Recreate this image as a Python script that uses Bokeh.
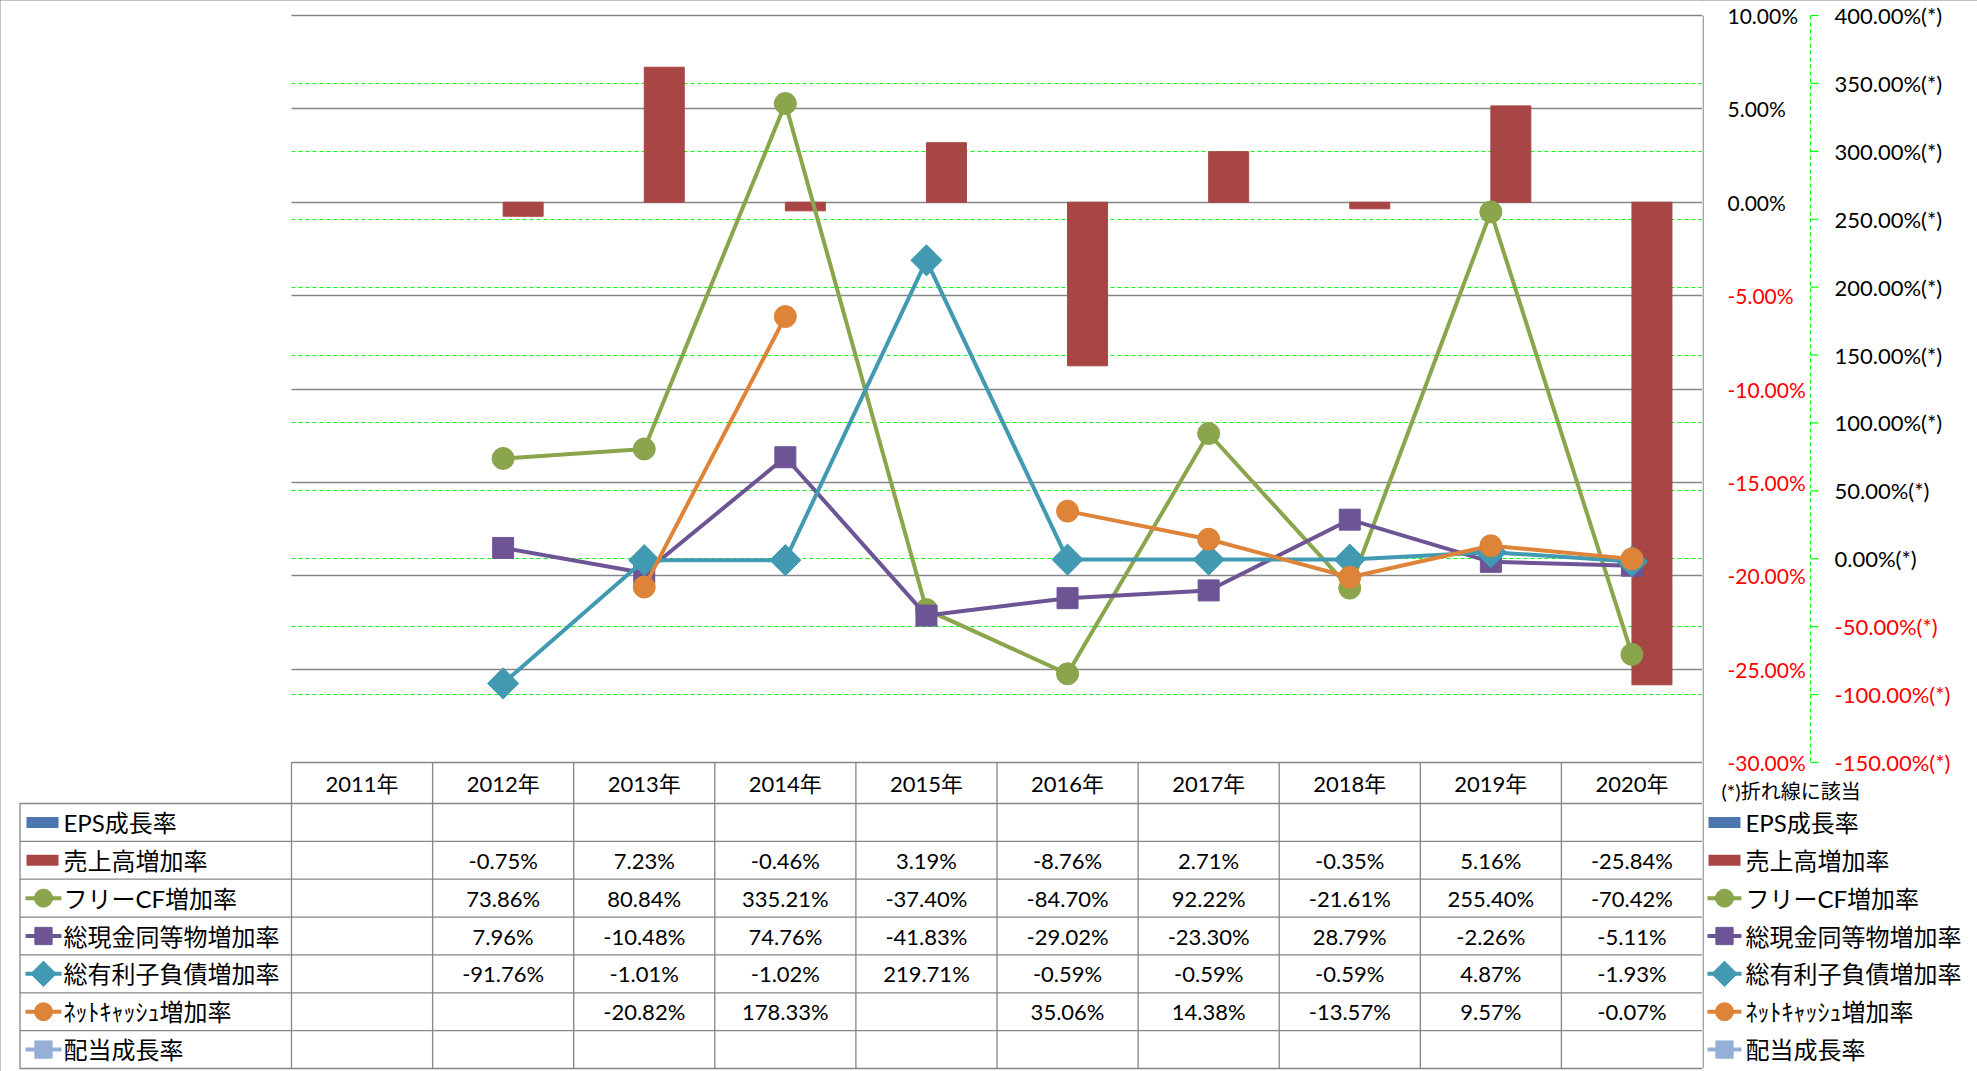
import numpy as np
from bokeh.plotting import figure
from bokeh.layouts import row
from bokeh.models import Range1d, FixedTicker, Grid
from bokeh.core.properties import value
from bokeh.embed import file_html
from bokeh.resources import INLINE

# ---------------- data ----------------
years = ["2011年", "2012年", "2013年", "2014年", "2015年", "2016年", "2017年", "2018年", "2019年", "2020年"]
eps_growth = [None] * 10
sales_growth = [None, -0.75, 7.23, -0.46, 3.19, -8.76, 2.71, -0.35, 5.16, -25.84]
fcf_growth = [None, 73.86, 80.84, 335.21, -37.40, -84.70, 92.22, -21.61, 255.40, -70.42]
cash_growth = [None, 7.96, -10.48, 74.76, -41.83, -29.02, -23.30, 28.79, -2.26, -5.11]
debt_growth = [None, -91.76, -1.01, -1.02, 219.71, -0.59, -0.59, -0.59, 4.87, -1.93]
netcash_growth = [None, None, -20.82, 178.33, None, 35.06, 14.38, -13.57, 9.57, -0.07]
div_growth = [None] * 10

series_names = ["EPS成長率", "売上高増加率", "フリーCF増加率", "総現金同等物増加率",
                "総有利子負債増加率", "ﾈｯﾄｷｬｯｼｭ増加率", "配当成長率"]
primary_ticks = [-30, -25, -20, -15, -10, -5, 0, 5, 10]
secondary_ticks = [-150, -100, -50, 0, 50, 100, 150, 200, 250, 300, 350, 400]
note_text = "(*)折れ線に該当"

# ---------------- styles ----------------
C_EPS = "#4A76AD"
C_SALES = "#A84646"
C_FCF = "#8AA54B"
C_CASH = "#6D5494"
C_DEBT = "#4199B2"
C_NET = "#DD8439"
C_DIV = "#95AFD6"
GRAY = "#868686"
LGREEN = "#00FF00"
FONT = "Lato, Noto Sans CJK JP"

# ---------------- layout (page pixels) ----------------
W_TOT, H_TOT = 1977, 1071
PLOT_L, PLOT_R = 291, 1702
Y10, Y_30, HDR_BOT, TBL_BOT = 15, 762, 803, 1068
ROW_H = (TBL_BOT - HDR_BOT) / 7
LEG_L = 19
N = len(years)
cw = (PLOT_R - PLOT_L) / N
X0 = -0.5 - PLOT_L / cw
y_min, y_max = primary_ticks[0], primary_ticks[-1]
s_min, s_max = secondary_ticks[0], secondary_ticks[-1]
ppy = (Y_30 - Y10) / (y_max - y_min)
spp = (Y_30 - Y10) / (s_max - s_min)


def Yc(py):
    return y_max - (py - Y10) / ppy


def Sc(py):
    return s_max - (py - Y10) / spp


def Xm(px):
    return X0 + px / cw


def arr(v):
    return np.array([np.nan if a is None else a for a in v], dtype=float)


xs = np.arange(N, dtype=float)
row_py = [HDR_BOT + ROW_H * (k + 0.5) for k in range(len(series_names))]

# ================= main figure: chart + data table =================
fig = figure(width=PLOT_R, height=H_TOT, x_range=Range1d(X0, N - 0.5),
             y_range=Range1d(Yc(H_TOT), Yc(0)),
             x_axis_location=None, y_axis_location=None, output_backend="svg", toolbar_location=None,
             min_border_left=0, min_border_right=0, min_border_top=0, min_border_bottom=0)
fig.xgrid.visible = False
fig.ygrid.visible = False
fig.extra_y_ranges = {"sec": Range1d(Sc(H_TOT), Sc(0))}
fig.outline_line_color = None
fig.add_layout(Grid(dimension=1, y_range_name="sec", ticker=FixedTicker(ticks=secondary_ticks),
                    grid_line_color=LGREEN, grid_line_dash="4 3", grid_line_width=1.2,
                    cross_bounds=(-0.5, N - 0.5)))
fig.add_layout(Grid(dimension=1, ticker=FixedTicker(ticks=primary_ticks),
                    grid_line_color=GRAY, grid_line_width=1.3, cross_bounds=(-0.5, N - 0.5)))

# bars
bw = 40 / cw
fig.vbar(x=[], top=[], bottom=0, width=bw, color=C_EPS)
sal = arr(sales_growth)
m = ~np.isnan(sal)
fig.vbar(x=xs[m] + bw / 2, top=sal[m], bottom=0, width=bw, color=C_SALES)

# lines
line_specs = [
    (fcf_growth, C_FCF, "circle", 22, 0.0),
    (cash_growth, C_CASH, "square", 21, 0.0),
    (debt_growth, C_DEBT, "square", 22, np.pi / 4),
    (netcash_growth, C_NET, "circle", 22, 0.0),
    (div_growth, C_DIV, "square", 21, 0.0),
]
for vals, col, mk, sz, ang in line_specs:
    a = arr(vals)
    fig.line(xs, a, y_range_name="sec", line_color=col, line_width=4, line_join="round")
    fig.scatter(xs, a, y_range_name="sec", marker=mk, size=sz, angle=ang, fill_color=col, line_color=col)

# table header
fig.text(x=xs, y=[Yc((Y_30 + HDR_BOT) / 2)] * N, text=years, text_font=value(FONT), text_font_size="22px",
         text_align="center", text_baseline="middle", text_color="black")
# table values
all_series = [eps_growth, sales_growth, fcf_growth, cash_growth, debt_growth, netcash_growth, div_growth]
tx, ty, tt = [], [], []
for k, s in enumerate(all_series):
    for i, v in enumerate(s):
        if v is not None:
            tx.append(float(i))
            ty.append(Yc(row_py[k]))
            tt.append("%.2f%%" % v)
fig.text(x=tx, y=ty, text=tt, text_font=value(FONT), text_font_size="22px",
         text_align="center", text_baseline="middle", text_color="black")
fig.text(x=[Xm(63)] * len(series_names), y=[Yc(p) for p in row_py], text=series_names, text_font=value(FONT),
         text_font_size="24px", text_align="left", text_baseline="middle", text_color="black")
# table borders
x0s, y0s, x1s, y1s = [], [], [], []
for k in range(N):
    x0s.append(k - 0.5); x1s.append(k - 0.5); y0s.append(Yc(Y_30)); y1s.append(Yc(TBL_BOT))
x0s.append(Xm(LEG_L + 0.5)); x1s.append(Xm(LEG_L + 0.5)); y0s.append(Yc(HDR_BOT)); y1s.append(Yc(TBL_BOT))
for k in range(len(series_names) + 1):
    yy = Yc(HDR_BOT + ROW_H * k)
    x0s.append(Xm(LEG_L)); x1s.append(N - 0.5); y0s.append(yy); y1s.append(yy)
fig.segment(x0=x0s, y0=y0s, x1=x1s, y1=y1s, line_color=GRAY, line_width=1.3)


def swatches(f, xconv, yconv, x_rect, x_l0, x_l1, x_mark):
    for k, col in [(0, C_EPS), (1, C_SALES)]:
        f.rect(x=[xconv(x_rect)], y=[yconv(row_py[k])], width=32, height=11, width_units="screen",
               height_units="screen", fill_color=col, line_color=None)
    for k, (vals, col, mk, sz, ang) in enumerate(line_specs):
        yy = yconv(row_py[k + 2])
        f.segment(x0=[xconv(x_l0)], y0=[yy], x1=[xconv(x_l1)], y1=[yy], line_color=col, line_width=4)
        f.scatter(x=[xconv(x_mark)], y=[yy], marker=mk, size=sz * 0.82, angle=ang,
                  fill_color=col, line_color=col)


swatches(fig, Xm, Yc, 42, 25, 61, 43)

# ================= right strip: value axes + legend =================
strip = figure(width=W_TOT - PLOT_R, height=H_TOT, x_range=Range1d(PLOT_R, W_TOT),
               y_range=Range1d(Yc(H_TOT), Yc(0)),
               x_axis_location=None, y_axis_location=None, output_backend="svg", toolbar_location=None,
               min_border_left=0, min_border_right=0, min_border_top=0, min_border_bottom=0)
strip.xgrid.visible = False
strip.ygrid.visible = False
strip.extra_y_ranges = {"sec": Range1d(Sc(H_TOT), Sc(0))}
strip.outline_line_color = None

# plot-area right border / primary value axis line
strip.segment(x0=[PLOT_R + 0.6], y0=[Yc(Y10)], x1=[PLOT_R + 0.6], y1=[Yc(TBL_BOT)], line_color=GRAY, line_width=1.3)
strip.text(x=[1727] * len(primary_ticks), y=primary_ticks, text=["%.2f%%" % t for t in primary_ticks],
           text_color=["#FF0000" if t < 0 else "black" for t in primary_ticks],
           text_font=value(FONT), text_font_size="21px", text_align="left", text_baseline="middle")
# secondary value axis
AX2 = 1810
strip.segment(x0=[AX2], y0=[s_max], x1=[AX2], y1=[s_min], y_range_name="sec",
              line_color=LGREEN, line_width=1.2, line_dash="4 3")
strip.segment(x0=[AX2] * len(secondary_ticks), y0=secondary_ticks, x1=[AX2 + 8] * len(secondary_ticks),
              y1=secondary_ticks, y_range_name="sec", line_color=LGREEN, line_width=1.2)
strip.text(x=[1834] * len(secondary_ticks), y=secondary_ticks, y_range_name="sec",
           text=["%.2f%%(*)" % t for t in secondary_ticks],
           text_color=["#FF0000" if t < 0 else "black" for t in secondary_ticks],
           text_font=value(FONT), text_font_size="22px", text_align="left", text_baseline="middle")
strip.text(x=[1721], y=[Yc(790)], text=[note_text], text_font=value(FONT),
           text_font_size="20px", text_align="left", text_baseline="middle", text_color="black")
# legend
swatches(strip, lambda px: px, Yc, 1724, 1707, 1741, 1724)
strip.text(x=[1745] * len(series_names), y=[Yc(p) for p in row_py], text=series_names,
           text_font=value(FONT), text_font_size="24px", text_align="left", text_baseline="middle",
           text_color="black")

layout = row(fig, strip)
layout.styles = {"outline": "1px solid #868686", "outline-offset": "-1px"}

open("out.html", "w").write(file_html(layout, INLINE))
